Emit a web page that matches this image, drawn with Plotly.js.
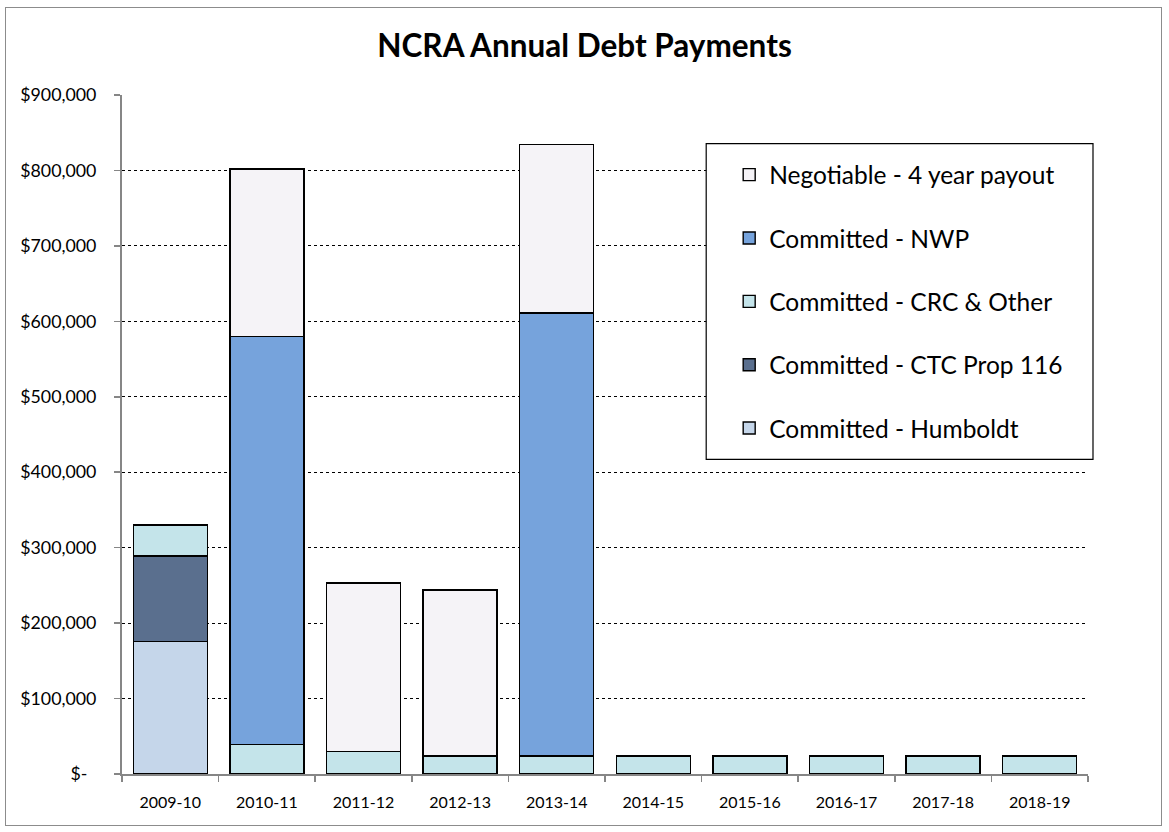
<!DOCTYPE html>
<html>
<head>
<meta charset="utf-8">
<script src="https://cdn.plot.ly/plotly-3.0.1.min.js"></script>
<style>
  html, body { margin:0; padding:0; background:#fff; }
  #frame { position:absolute; left:5px; top:7px; width:1155px; height:817px; border:1.5px solid #8c8c8c; }
  #chart { position:absolute; left:0; top:0; width:1169px; height:832px; }
</style>
</head>
<body>
<div id="frame"></div>
<div id="chart"></div>
<script>
const categories = ['2009-10','2010-11','2011-12','2012-13','2013-14','2014-15','2015-16','2016-17','2017-18','2018-19'];
const humboldt   = [176000, null, null, null, null, null, null, null, null, null];
const ctcProp116 = [113000, null, null, null, null, null, null, null, null, null];
const crcOther   = [41000, 39000, 30000, 24000, 24000, 24000, 24000, 24000, 24000, 24000];
const nwp        = [null, 541000, null, null, 587000, null, null, null, null, null];
const negotiable = [null, 222000, 223000, 220000, 223000, null, null, null, null, null];

const yTickVals = [0,100000,200000,300000,400000,500000,600000,700000,800000,900000];
const yTickText = ['$-\u00a0\u00a0','$100,000','$200,000','$300,000','$400,000','$500,000','$600,000','$700,000','$800,000','$900,000'];

const seriesNames = ['Committed - Humboldt','Committed - CTC Prop 116','Committed - CRC & Other','Committed - NWP','Negotiable - 4 year payout'];
const seriesVals = [humboldt, ctcProp116, crcOther, nwp, negotiable];
const seriesColors = ['#c5d6ea','#5a6f8e','#c4e4ea','#76a3dc','#f5f3f7'];

const traces = seriesVals.map((v,i) => ({
  type:'bar', x:categories, y:v, name:seriesNames[i], legendgroup:'g'+i,
  legendrank: seriesVals.length - i,
  marker:{color:seriesColors[i], line:{color:'#000', width:1.4}},
  hoverinfo:'skip'
}));

const px = p => (p-121.5)/966.5;
const py = p => (774.3-p)/679.6;

const layout = {
  width:1169, height:832,
  margin:{l:121.5, r:80.5, t:94.7, b:57.7},
  paper_bgcolor:'rgba(0,0,0,0)', plot_bgcolor:'rgba(0,0,0,0)',
  barmode:'stack', bargap:0.235,
  font:{family:'Lato, sans-serif', color:'#000'},
  title:{text:'<b>NCRA Annual Debt Payments</b>', font:{family:'Lato, sans-serif', size:31.5, color:'#000'}, x:0.5, xanchor:'center', y:0.945, yanchor:'middle'},
  xaxis:{
    type:'category', showgrid:false, showline:true, linecolor:'#868686', linewidth:2,
    ticks:'outside', tickson:'boundaries', ticklen:6, tickcolor:'#868686', tickwidth:1.5,
    tickfont:{size:16, family:'Lato, sans-serif'}, ticklabelstandoff:13, fixedrange:true
  },
  yaxis:{
    range:[0,900000], tickvals:yTickVals, ticktext:yTickText,
    showgrid:true, gridcolor:'#000', griddash:'dot', gridwidth:1,
    showline:true, linecolor:'#868686', linewidth:2, zeroline:false,
    ticks:'outside', ticklen:6, tickcolor:'#868686', tickwidth:1.5,
    tickfont:{size:17.8, family:'Lato, sans-serif'}, ticklabelstandoff:14, fixedrange:true
  },
  showlegend:true,
  legend:{
    x:px(729), xanchor:'left', y:py(152), yanchor:'top',
    traceorder:'grouped', tracegroupgap:28.5,
    bgcolor:'rgba(0,0,0,0)', borderwidth:0,
    font:{size:24.5, family:'Lato, sans-serif', color:'#000'}
  },
  shapes:[{
    type:'rect', xref:'paper', yref:'paper', layer:'above',
    x0:px(706), x1:px(1093), y0:py(459.3), y1:py(143.3),
    line:{color:'#000', width:1.2}, fillcolor:'#fff'
  }]
};

Plotly.newPlot('chart', traces, layout, {displayModeBar:false, staticPlot:true});
</script>
</body>
</html>
